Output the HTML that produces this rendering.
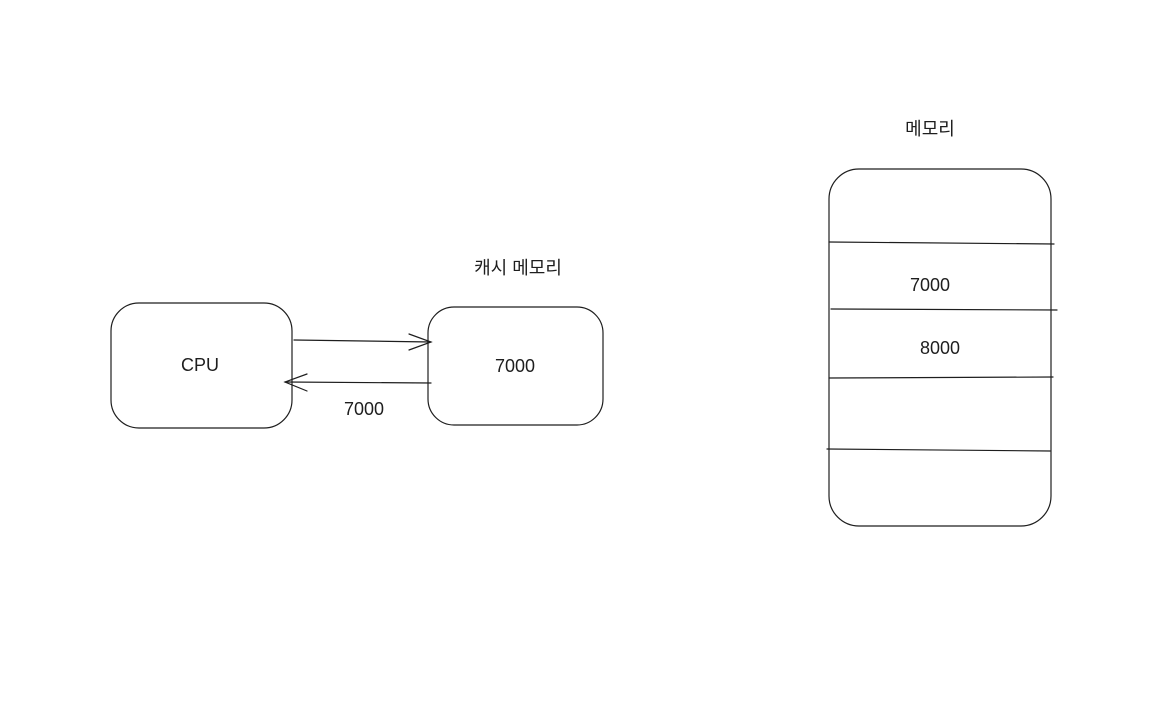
<!DOCTYPE html>
<html><head><meta charset="utf-8"><style>
html,body{margin:0;padding:0;background:#fff;width:1164px;height:708px;overflow:hidden}
svg text{font-family:"Liberation Sans","Noto Sans CJK KR",sans-serif;fill:#1e1e1e}
</style></head><body>
<svg width="1164" height="708" viewBox="0 0 1164 708" xmlns="http://www.w3.org/2000/svg">
<g fill="none" stroke="#1e1e1e" stroke-width="1.2" stroke-linecap="round">
<rect x="111" y="303" width="181" height="125" rx="28"/>
<rect x="428" y="307" width="175" height="118" rx="26"/>
<rect x="829" y="169" width="222" height="357" rx="30"/>
<line x1="829" y1="242" x2="1054" y2="244"/>
<line x1="831" y1="309" x2="1057" y2="310"/>
<line x1="829" y1="378" x2="1053" y2="377"/>
<line x1="827" y1="449" x2="1050" y2="451"/>
<line x1="294" y1="340" x2="431" y2="342"/>
<polyline points="409,334 431,342 409,350"/>
<line x1="431" y1="383" x2="285" y2="382"/>
<polyline points="307,374 285,382 307,391"/>
</g>
<g font-size="18" text-anchor="middle">
<text x="200" y="371">CPU</text>
<text x="515" y="372">7000</text>
<text x="364" y="415">7000</text>
<text x="930" y="291">7000</text>
<text x="940" y="354">8000</text>
<text x="518" y="274">캐시 메모리</text>
<text x="930" y="135">메모리</text>
</g>
</svg>
</body></html>
